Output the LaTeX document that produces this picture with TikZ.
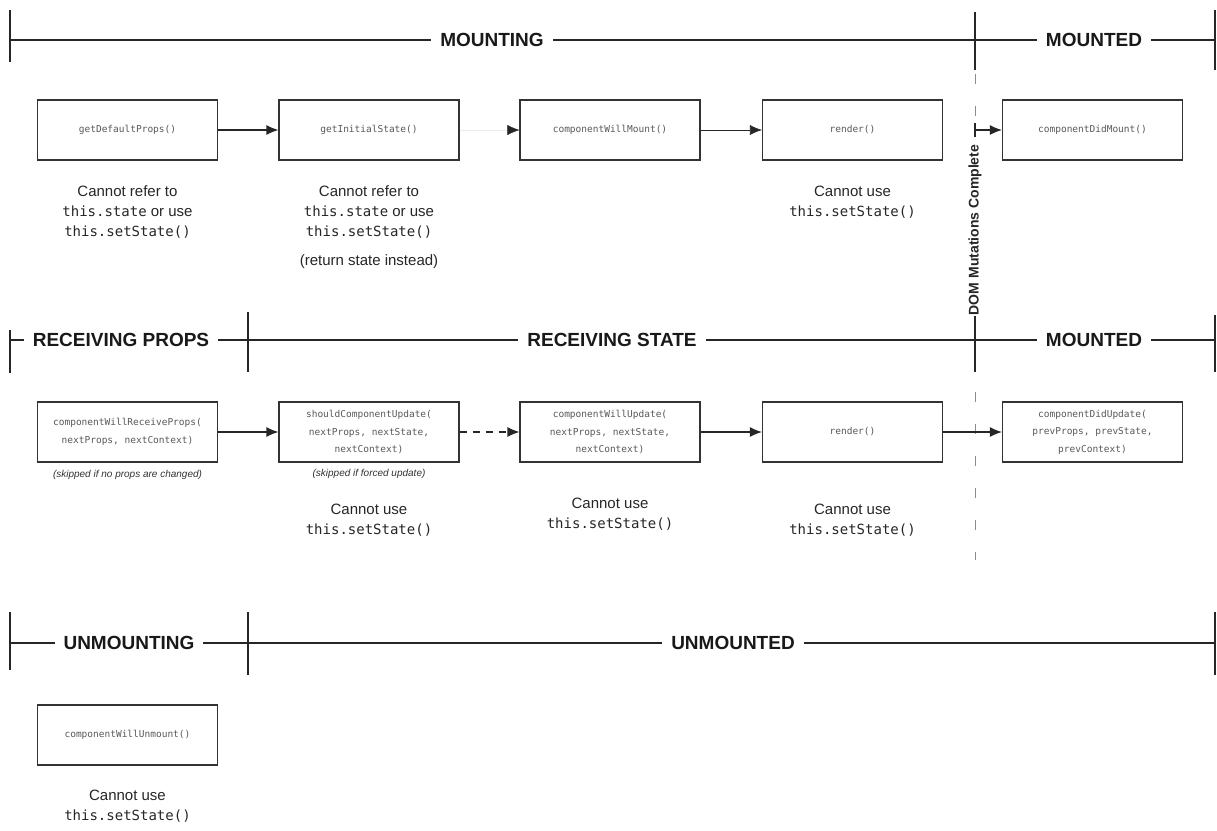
\documentclass[tikz,border=0pt]{standalone}
\usepackage{fontspec}
\setmainfont{Liberation Sans}
\newfontfamily\monofam{DejaVu Sans Mono}
\usetikzlibrary{arrows.meta}
\newcommand{\tm}[1]{{\monofam\fontsize{14}{20}\selectfont #1}}
\tikzset{
  fbox/.style={draw=black!80, line width=1.1pt, fill=white, minimum width=180pt, minimum height=60pt,
    inner sep=0pt, font=\monofam\fontsize{9.5}{17.5}\selectfont, text=black!65, align=center},
  hdr/.style={fill=white, font=\bfseries\fontsize{19}{22}\selectfont, inner xsep=9pt, inner ysep=3pt, text=black!90},
  note/.style={font=\fontsize{15}{20}\selectfont, align=center, text=black!85},
  small/.style={font=\itshape\fontsize{10}{12}\selectfont, text=black!80},
  arr/.style={-{Latex[length=12pt,width=10pt]}, line width=1.2pt, draw=black!85},
  thinarr/.style={-{Latex[length=12pt,width=10pt]}, line width=0.6pt, draw=black!85},
  tl/.style={line width=1.3pt, draw=black!85},
  tick/.style={line width=1.4pt, draw=black!85},
  vdash/.style={line width=1pt, draw=black!45, dash pattern=on 10pt off 22pt}
}
\begin{document}
\begin{tikzpicture}[x=1pt,y=-1pt]
\useasboundingbox (0,0) rectangle (1217,830);

% ---------- timelines ----------
\draw[tl] (10,40) -- (1215,40);
\draw[tick] (10,10) -- (10,62);
\draw[tick] (975,12) -- (975,70);
\draw[tick] (1215,10) -- (1215,70);
\node[hdr] (hmounting) at (492,40) {MOUNTING};
\node[hdr] (hmounted1) at (1094,40) {MOUNTED};

\draw[tl] (10,340) -- (1215,340);
\draw[tick] (10,330) -- (10,373);
\draw[tick] (248,312) -- (248,372);
\draw[tick] (1215,315) -- (1215,372);
\node[hdr] (hprops) at (121,340) {RECEIVING PROPS};
\node[hdr] (hstate) at (612,340) {RECEIVING STATE};
\node[hdr] (hmounted2) at (1094,340) {MOUNTED};

\draw[tl] (10,643) -- (1215,643);
\draw[tick] (10,612) -- (10,670);
\draw[tick] (248,612) -- (248,675);
\draw[tick] (1215,612) -- (1215,675);
\node[hdr] (hunmounting) at (129,643) {UNMOUNTING};
\node[hdr] (hunmounted) at (733,643) {UNMOUNTED};

% ---------- DOM mutations line ----------
\coordinate (dtop) at (975,74);
\coordinate (dbar) at (975,130);
\coordinate (dlow) at (975,372);
\coordinate (dend) at (975,560);
\draw[vdash] (dtop) -- (975,126);
\draw[tick, line width=1.1pt] (975,123) -- (975,137);
\node[rotate=90, font=\bfseries\fontsize{14}{16}\selectfont, fill=white, inner sep=1pt, text=black!85] (dom) at (975,230) {DOM Mutations Complete};
\draw[tick, line width=1.1pt] (dom.west) -- (dlow);
\draw[vdash] (975,392) -- (dend);

% ---------- row 1 ----------
\node[fbox] (gdp) at (127.5,130) {getDefaultProps()};
\node[fbox] (gis) at (369,130) {getInitialState()};
\node[fbox] (cwm) at (610,130) {componentWillMount()};
\node[fbox] (rnd1) at (852.5,130) {render()};
\node[fbox] (cdm) at (1092.5,130) {componentDidMount()};

\draw[arr] (gdp) -- (gis);
\draw[-{Latex[length=12pt,width=10pt,color=black!85]}, line width=0.3pt, draw=black!8] (gis) -- (cwm);
\draw[thinarr] (cwm) -- (rnd1);
\draw[arr] (dbar) -- (cdm);

\node[note] (n1) at (127.5,212) {Cannot refer to\\\tm{this.state} or use\\\tm{this.setState()}};
\node[note] (n2) at (369,212) {Cannot refer to\\\tm{this.state} or use\\\tm{this.setState()}};
\node[note] (n2b) at (369,262) {(return state instead)};
\node[note] (n4) at (852.5,202) {Cannot use\\\tm{this.setState()}};

% ---------- row 2 ----------
\node[fbox] (cwrp) at (127.5,432) {componentWillReceiveProps(\\nextProps, nextContext)};
\node[fbox] (scu) at (369,432) {shouldComponentUpdate(\\nextProps, nextState,\\nextContext)};
\node[fbox] (cwu) at (610,432) {componentWillUpdate(\\nextProps, nextState,\\nextContext)};
\node[fbox] (rnd2) at (852.5,432) {render()};
\node[fbox] (cdu) at (1092.5,432) {componentDidUpdate(\\prevProps, prevState,\\prevContext)};

\draw[arr] (cwrp) -- (scu);
\draw[arr, dash pattern=on 7pt off 6pt] (scu) -- (cwu);
\draw[arr] (cwu) -- (rnd2);
\draw[arr] (rnd2) -- (cdu);

\node[small] (s1) at (127.5,475) {(skipped if no props are changed)};
\node[small] (s2) at (369,474) {(skipped if forced update)};
\node[note] (n6) at (369,520) {Cannot use\\\tm{this.setState()}};
\node[note] (n7) at (610,514) {Cannot use\\\tm{this.setState()}};
\node[note] (n8) at (852.5,520) {Cannot use\\\tm{this.setState()}};

% ---------- row 3 ----------
\node[fbox] (cwun) at (127.5,735) {componentWillUnmount()};
\node[note] (n9) at (127.5,806) {Cannot use\\\tm{this.setState()}};
\end{tikzpicture}
\end{document}
